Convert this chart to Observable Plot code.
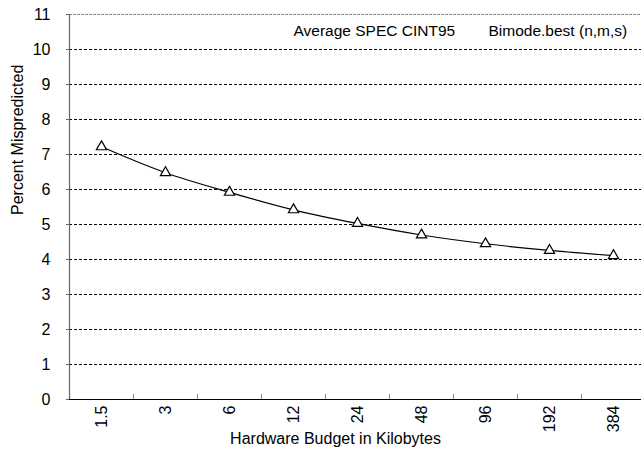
<!DOCTYPE html>
<html>
<head>
<meta charset="utf-8">
<script src="https://cdn.jsdelivr.net/npm/d3@7"></script>
<script src="https://cdn.jsdelivr.net/npm/@observablehq/plot@0.6"></script>
<style>
  html, body { margin: 0; padding: 0; background: #fff; overflow: hidden; }
  #chart svg { display: block; }
</style>
</head>
<body>
<div id="chart"></div>
<script>
// Data
const categories = ["1.5", "3", "6", "12", "24", "48", "96", "192", "384"];
const values = [7.22, 6.48, 5.92, 5.42, 5.03, 4.70, 4.45, 4.26, 4.11];
const yTicks = [0, 1, 2, 3, 4, 5, 6, 7, 8, 9, 10, 11];
const xTitle = "Hardware Budget in Kilobytes";
const yTitle = "Percent Mispredicted";
const legendLabels = ["Average SPEC CINT95", "Bimode.best (n,m,s)"];

const data = categories.map((c, i) => ({cat: c, idx: i + 0.5, value: values[i]}));
const centers = categories.map((c, i) => i + 0.5);
const boundaries = categories.slice(1).map((c, i) => i + 1);
const grid = yTicks.filter(t => t > 0 && t < 11);
const topTick = [yTicks[yTicks.length - 1]];

const font = "'Liberation Sans', Arial, Helvetica, sans-serif";

const chart = Plot.plot({
  width: 641,
  height: 454,
  marginLeft: 69,
  marginRight: 0,
  marginTop: 14,
  marginBottom: 55,
  style: {fontFamily: font, fontSize: "16px", color: "#000", background: "#fff"},
  x: {domain: [0, categories.length], range: [69, 645]},
  y: {domain: [0, 11]},
  marks: [
    Plot.ruleY(grid, {y: d => d, stroke: "#000", strokeWidth: 1, strokeDasharray: "3,2"}),
    Plot.ruleY(topTick, {y: d => d, stroke: "#888", strokeWidth: 1, strokeDasharray: "3,1"}),
    Plot.ruleX([0], {x: d => d, stroke: "#666", strokeWidth: 1.2}),
    Plot.axisY({ticks: yTicks, tickSize: 3, tickPadding: 16, tickFormat: d => String(d), fontSize: 16, label: null, stroke: "#666"}),
    Plot.axisX({ticks: boundaries, tickSize: -5, tickFormat: () => "", label: null, stroke: "#888"}),
    Plot.axisX({ticks: centers, tickSize: 0, tickPadding: 6, tickRotate: -90, tickFormat: (d) => categories[Math.round(d - 0.5)], fontSize: 16, label: null}),
    Plot.ruleY([0], {y: d => d, stroke: "#000", strokeWidth: 1.2}),
    Plot.line(data, {x: "idx", y: "value", curve: "catmull-rom", stroke: "#000", strokeWidth: 1.2}),
    Plot.dot(data, {x: "idx", y: "value", symbol: "triangle", r: 3.8, fill: "#fff", stroke: "#000", strokeWidth: 1.2}),
    Plot.text([yTitle], {frameAnchor: "left", rotate: -90, dx: -52, dy: 8, fontSize: 16, fill: "#000"}),
    Plot.text([xTitle], {frameAnchor: "bottom", dx: -20, dy: 44, fontSize: 16, fill: "#000"}),
    Plot.text([legendLabels[0]], {frameAnchor: "top-left", textAnchor: "start", dx: 224, dy: 10, fontSize: 15.5, fill: "#000"}),
    Plot.text([legendLabels[1]], {frameAnchor: "top-left", textAnchor: "start", dx: 419, dy: 10, fontSize: 15.5, fill: "#000"})
  ]
});
document.getElementById("chart").appendChild(chart);
</script>
</body>
</html>
